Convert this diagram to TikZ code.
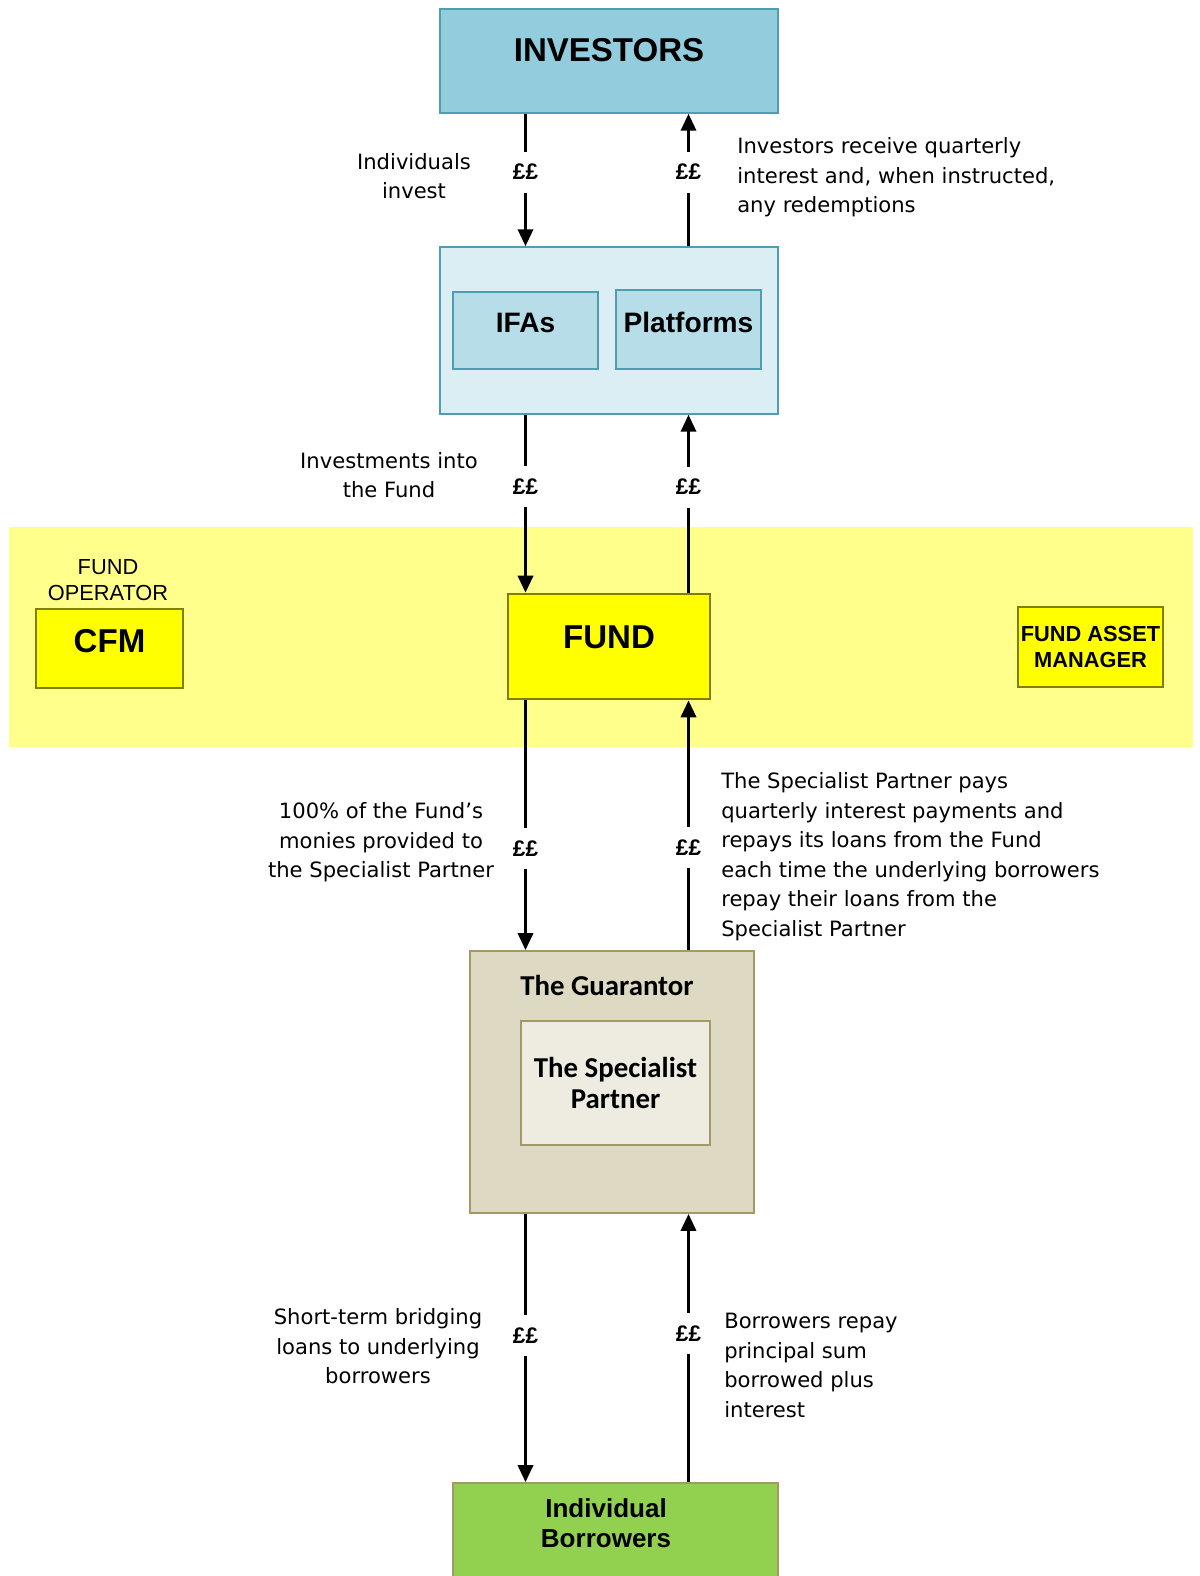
\documentclass[tikz,border=0pt]{standalone}
\usepackage{fontspec}
\setmainfont{DejaVu Sans}
\newfontfamily\arialfont{Liberation Sans}
\newfontfamily\calibrifont{Carlito}
\usepackage{tikz}
\usetikzlibrary{positioning, arrows.meta, calc}

\definecolor{invblue}{HTML}{93CDDD}
\definecolor{invline}{HTML}{4F9DB2}
\definecolor{paleblue}{HTML}{DAEEF3}
\definecolor{midblue}{HTML}{B7DEE8}
\definecolor{bandyellow}{HTML}{FFFF8C}
\definecolor{fundyellow}{HTML}{FFFF00}
\definecolor{fundline}{HTML}{7F7F00}
\definecolor{tanfill}{HTML}{DDD9C3}
\definecolor{tanline}{HTML}{A29A66}
\definecolor{creamfill}{HTML}{EEECE1}
\definecolor{leafgreen}{HTML}{92D050}

\begin{document}
\begin{tikzpicture}[x=0.025cm, y=-0.025cm, >={Triangle[length=12pt,width=11pt]},
  box/.style={draw=invline, line width=1.2pt},
  yellowbox/.style={draw=fundline, line width=2pt, fill=fundyellow},
  tanbox/.style={draw=tanline, line width=1.4pt},
  note/.style={inner sep=0pt, align=center, font=\fontsize{15}{21}\selectfont},
  money/.style={fill=white, inner xsep=2pt, inner ysep=9pt, font=\arialfont\bfseries\fontsize{16}{18}\selectfont},
  flow/.style={->, line width=1.5pt},
  lift/.style={text depth=#1}]

  \fill[white] (0,0) rectangle (1200,1576);
  \useasboundingbox (0,0) rectangle (1200,1576);

  % fund band
  \node[fill=bandyellow, minimum width=29.6cm, minimum height=5.5cm, inner sep=0pt] (band) at (601,637) {};

  % investors and distributors
  \node[box, fill=invblue, minimum width=8.45cm, minimum height=2.6cm, lift=15.6pt,
    font=\arialfont\bfseries\fontsize{23.5}{26}\selectfont] (inv) at (609,61) {INVESTORS};
  \node[box, fill=paleblue, minimum width=8.45cm, minimum height=4.175cm] (dist) at (609,330.5) {};
  \node[box, fill=midblue, minimum width=3.625cm, minimum height=1.925cm, lift=11.4pt,
    font=\arialfont\bfseries\fontsize{20}{23}\selectfont] (ifa) at (525.5,330.5) {IFAs};
  \node[box, fill=midblue, minimum width=3.625cm, minimum height=1.975cm, lift=10.6pt,
    font=\arialfont\bfseries\fontsize{20}{23}\selectfont] (plat) at (688.5,329.5) {Platforms};

  % fund row
  \node[note, font=\arialfont\fontsize{15.5}{18.5}\selectfont] (operator) at (108,580) {FUND\\OPERATOR};
  \node[yellowbox, minimum width=3.675cm, minimum height=1.975cm, lift=10.6pt,
    font=\arialfont\bfseries\fontsize{23.5}{26}\selectfont] (cfm) at (109.5,648.5) {CFM};
  \node[yellowbox, minimum width=5.05cm, minimum height=2.625cm, lift=13.5pt,
    font=\arialfont\bfseries\fontsize{23.5}{26}\selectfont] (fund) at (609,646.5) {FUND};
  \node[yellowbox, minimum width=3.625cm, minimum height=2cm, align=center, inner sep=1pt,
    font=\arialfont\bfseries\fontsize{15.5}{18.5}\selectfont] (fam) at (1090.5,647) {FUND ASSET\\MANAGER};

  % guarantor
  \node[tanbox, fill=tanfill, minimum width=7.1cm, minimum height=6.55cm] (guar) at (612,1082) {};
  \node[font=\calibrifont\bfseries\fontsize{20.5}{22}\selectfont] (guartitle) at (607,985) {The Guarantor};
  \node[tanbox, fill=creamfill, minimum width=4.725cm, minimum height=3.1cm, align=center,
    font=\calibrifont\bfseries\fontsize{20.5}{22}\selectfont] (spec) at (615.5,1083) {The Specialist\\Partner};

  % borrowers
  \node[tanbox, fill=leafgreen, minimum width=8.125cm, minimum height=2.675cm] (borr) at (615.5,1536.5) {};
  \node[align=center, font=\arialfont\bfseries\fontsize{18.5}{21.3}\selectfont] (borrtxt) at (606,1523) {Individual\\Borrowers};

  % money flows
  \draw[flow] (inv.south -| ifa) -- node[money, pos=0.44] (m1) {££} (dist.north -| ifa);
  \draw[flow] (dist.north -| plat) -- node[money, pos=0.56] (m2) {££} (inv.south -| plat);
  \draw[flow] (dist.south -| ifa) -- node[money, pos=0.405] (m3) {££} (fund.north -| ifa);
  \draw[flow] (fund.north -| plat) -- node[money, pos=0.594] (m4) {££} (dist.south -| plat);
  \draw[flow] (fund.south -| ifa) -- node[money, pos=0.595] (m5) {££} (guar.north -| ifa);
  \draw[flow] (guar.north -| plat) -- node[money, pos=0.41] (m6) {££} (fund.south -| plat);
  \draw[flow] (guar.south -| ifa) -- node[money, pos=0.454] (m7) {££} (borr.north -| ifa);
  \draw[flow] (borr.north -| plat) -- node[money, pos=0.554] (m8) {££} (guar.south -| plat);

  % notes
  \node[note] (invest) at (414,176) {Individuals\\invest};
  \node[note, align=left, anchor=west] (receive) at (737,177.5) {Investors receive quarterly\\interest and, when instructed,\\any redemptions};
  \node[note] (into) at (389,475) {Investments into\\the Fund};
  \node[note] (monies) at (381,842.5) {100\% of the Fund’s\\monies provided to\\the Specialist Partner};
  \node[note, align=left, anchor=west] (repays) at (721,856.5) {The Specialist Partner pays\\quarterly interest payments and\\repays its loans from the Fund\\each time the underlying borrowers\\repay their loans from the\\Specialist Partner};
  \node[note] (bridging) at (378,1346.5) {Short-term bridging\\loans to underlying\\borrowers};
  \node[note, align=left, anchor=west] (repay) at (724,1365.5) {Borrowers repay\\principal sum\\borrowed plus\\interest};
\end{tikzpicture}
\end{document}
